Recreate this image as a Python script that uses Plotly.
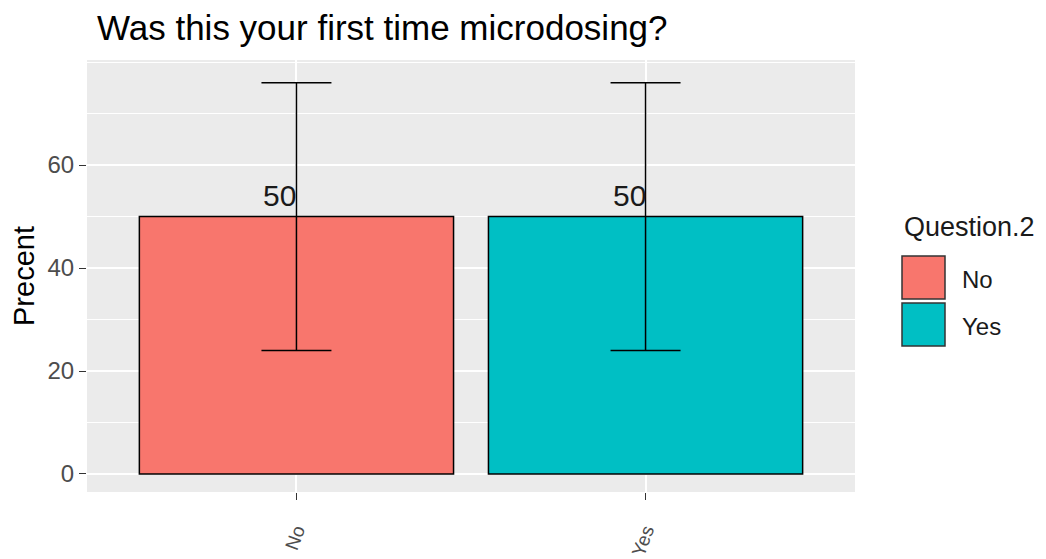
import plotly.graph_objects as go

# Daten
categories = ["No", "Yes"]
percent = [50, 50]
err = [26, 26]
bar_colors = ["#F8766D", "#00BFC4"]
y_ticks = [0, 20, 40, 60]

# Seite hat 8px Rand -> Figur etwas kleiner
W, H = 1038, 551
L, R, T, B = 79, 191, 52, 67

fig = go.Figure()

for cat, val, e, col in zip(categories, percent, err, bar_colors):
    fig.add_trace(go.Bar(
        x=[cat], y=[val], name=cat, width=0.9,
        marker=dict(color=col, line=dict(color="black", width=1.5)),
        error_y=dict(type="data", array=[e], color="black", thickness=1.5, width=35),
        showlegend=False,
    ))

# Wert-Beschriftung ueber den Balken
for cat, val in zip(categories, percent):
    fig.add_annotation(
        x=cat, y=val, text=str(val), showarrow=False,
        xanchor="right", yanchor="bottom", yshift=3, xshift=2,
        font=dict(size=30, color="#1a1a1a"),
    )

# Legende von Hand (ggplot-artige grosse Kaestchen)
px_w = W - L - R
px_h = H - T - B
def to_px(xp, yp):
    return (xp - L) / px_w, 1 - (yp - T) / px_h

tx, ty = to_px(894, 219)
fig.add_annotation(
    xref="paper", yref="paper", x=tx, y=ty, text="Question.2", showarrow=False,
    xanchor="left", yanchor="middle", font=dict(size=27, color="#1a1a1a"),
)
for i, (cat, col) in enumerate(zip(categories, bar_colors)):
    top = 248 + i * 47
    x0, y0 = to_px(894, top)
    x1, y1 = to_px(937, top + 43)
    fig.add_shape(type="rect", xref="paper", yref="paper", x0=x0, y0=y1, x1=x1, y1=y0,
                  fillcolor=col, line=dict(color="#333333", width=1.5))
    lx, ly = to_px(952, top + 23)
    fig.add_annotation(xref="paper", yref="paper", x=lx, y=ly, text=cat, showarrow=False,
                       xanchor="left", yanchor="middle", font=dict(size=24, color="#1a1a1a"))

fig.update_layout(
    width=W, height=H,
    margin=dict(l=L, r=R, t=T, b=B, autoexpand=False),
    paper_bgcolor="white", plot_bgcolor="#EBEBEB",
    font=dict(family="Liberation Sans, Arial, sans-serif"),
    title=dict(text="Was this your first time microdosing?", x=89 / W, xanchor="left",
               xref="container", y=1 - 20 / H, yref="container", yanchor="middle",
               font=dict(size=35, color="black")),
    bargap=0.1,
)
fig.update_xaxes(
    range=[-0.6, 1.6], showgrid=True, gridcolor="white", gridwidth=1.5,
    ticks="outside", ticklen=7, tickcolor="#333333", tickwidth=1.2,
    tickangle=-70, tickfont=dict(size=19, color="#4D4D4D"), ticklabelstandoff=12,
    zeroline=False, showline=False, automargin=False,
)
fig.update_yaxes(
    range=[-3.5, 80.4], tickvals=y_ticks, showgrid=True, gridcolor="white", gridwidth=1.5,
    minor=dict(dtick=10, tick0=0, showgrid=True, gridcolor="white", gridwidth=0.8),
    ticks="outside", ticklen=7, tickcolor="#333333", tickwidth=1.2,
    tickfont=dict(size=24, color="#4D4D4D"),
    title=dict(text="Precent", font=dict(size=29, color="black"), standoff=8),
    zeroline=False, showline=False, automargin=False,
)

fig.write_html("out.html")
